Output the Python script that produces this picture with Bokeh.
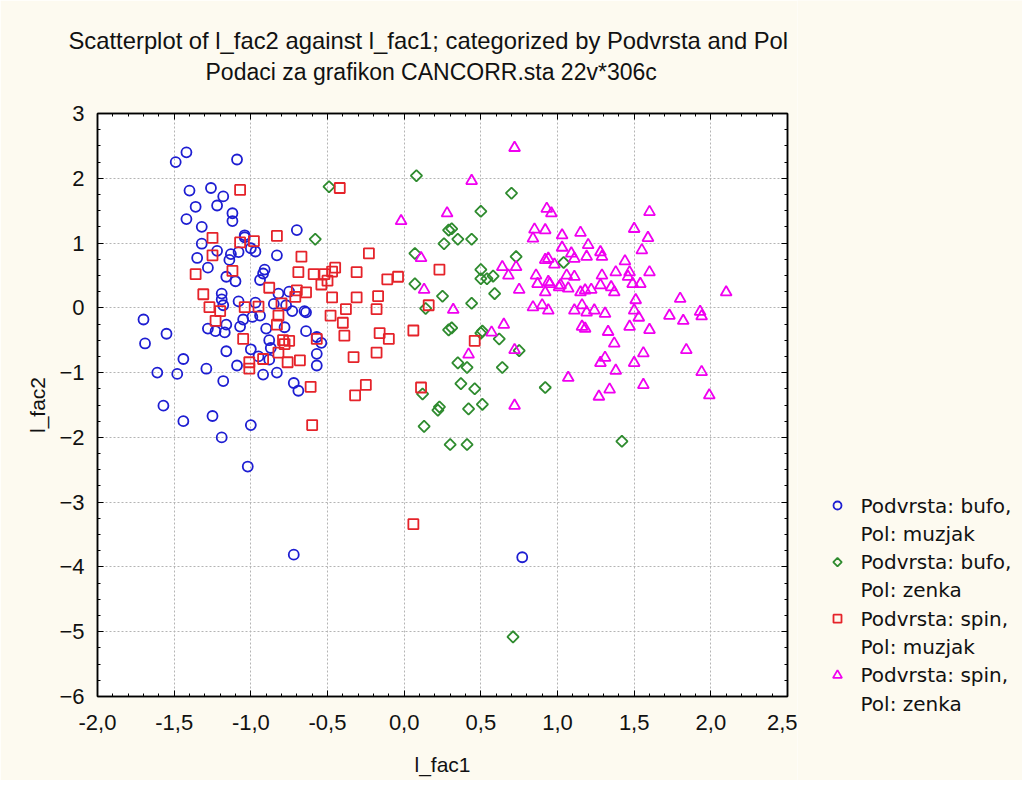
from bokeh.plotting import figure
from bokeh.layouts import row
from bokeh.models import (Range1d, LinearAxis, Title, SingleIntervalTicker,
                          CustomJSTickFormatter)
from bokeh.core.properties import value
from bokeh.embed import file_html
from bokeh.resources import INLINE

# ---- data ----
bufo_muzjak_x = [-1.49, -1.42, -1.09, -1.40, -1.26, -1.18, -1.22, -1.36, -1.12, -1.12,
                 -1.42, -1.32, -0.70, -1.04, -1.32, -1.00, -0.97, -1.22, -1.35, -1.13,
                 -1.14, -0.83, -1.28, -0.91, -0.92, -1.16, -1.10, -0.94, -0.82, -0.75,
                 -1.19, -1.19, -1.08, -0.97, -0.85, -1.18, -0.77, -0.65, -0.73, -1.70,
                 -1.55, -1.69, -1.44, -1.61, -1.48, -1.29, -1.18, -1.57, -1.44, -1.25,
                 -1.19, -1.00, -1.02, -1.28, -1.23, -1.17, -1.16, -1.07, -1.05, -0.99,
                 -1.16, -1.09, -1.00, -0.95, -0.92, -0.83, -0.88, -0.87, -0.88, -0.90,
                 -0.78, -0.64, -0.64, -0.57, -0.57, -0.57, -0.54, -0.72, -0.69, -0.94,
                 -0.72, 0.77, -1.08, -1.04]
bufo_muzjak_y = [2.25, 2.40, 2.29, 1.81, 1.85, 1.72, 1.58, 1.56, 1.46, 1.34,
                 1.37, 1.25, 1.20, 1.09, 0.99, 0.92, 0.87, 0.88, 0.77, 0.83,
                 0.74, 0.81, 0.62, 0.59, 0.53, 0.48, 0.41, 0.43, 0.22, 0.25,
                 0.22, 0.13, 0.10, 0.08, 0.06, 0.04, 0.04, -0.05, -0.05, -0.18,
                 -0.40, -0.55, -0.79, -1.00, -1.02, -0.94, -1.13, -1.51, -1.75, -1.67,
                 -2.00, -1.81, -2.45, -0.32, -0.36, -0.38, -0.26, -0.29, -0.18, -0.14,
                 -0.67, -0.89, -0.64, -0.75, -1.03, -1.00, -0.50, -0.62, -0.80, -0.32,
                 -0.30, -0.07, -0.36, -0.45, -0.71, -0.89, -0.54, -1.16, -1.28, -0.12,
                 -3.81, -3.85, 0.86, 1.12]

bufo_zenka_x = [-0.49, 0.08, -0.58, 0.07, 0.07, 0.26, 0.70, 0.50, 0.29, 0.31,
                0.35, 0.44, 0.73, 1.04, 0.50, 0.50, 0.54, 0.58, 0.59, 0.25,
                0.44, 0.14, 0.29, 0.31, 0.50, 0.51, 0.62, 0.75, 0.35, 0.41,
                0.64, 0.92, 0.37, 0.46, 0.12, 0.23, 0.22, 0.42, 0.51, 0.13,
                0.30, 0.41, 1.42, 0.71]
bufo_zenka_y = [1.87, 2.04, 1.06, 0.84, 0.37, 0.99, 1.77, 1.49, 1.20, 1.22,
                1.06, 1.06, 0.79, 0.70, 0.59, 0.45, 0.45, 0.49, 0.22, 0.18,
                0.07, -0.01, -0.34, -0.31, -0.39, -0.36, -0.48, -0.66, -0.85, -0.92,
                -0.92, -1.23, -1.17, -1.25, -1.33, -1.53, -1.58, -1.56, -1.49, -1.83,
                -2.11, -2.11, -2.06, -5.08]

spin_muzjak_x = [-1.07, -0.42, -1.25, -1.07, -0.98, -0.83, -1.25, -0.67, -0.23, -1.36,
                 -1.12, -0.69, -0.59, -0.52, -0.47, -0.45, -0.31, -0.11, -0.04, -0.54,
                 -0.50, -0.88, -1.31, -0.70, -0.64, -0.71, -0.47, -0.31, -0.17, -0.80,
                 0.23, -1.27, -1.20, -1.04, -0.95, -0.38, -0.18, 0.16, -1.23, -0.82,
                 -0.83, -0.48, -0.40, -0.39, -1.05, -0.79, -0.75, -0.78, -0.82, -0.76,
                 -0.68, -0.92, -1.01, -1.01, -0.57, -0.16, -0.10, 0.06, -0.33, -0.18,
                 -0.61, -0.32, -0.25, -0.60, 0.11, 0.46, 0.06]
spin_muzjak_y = [1.82, 1.85, 1.08, 1.01, 1.03, 1.11, 0.81, 0.79, 0.84, 0.52,
                 0.57, 0.55, 0.52, 0.52, 0.56, 0.62, 0.55, 0.44, 0.48, 0.36,
                 0.42, 0.31, 0.21, 0.27, 0.24, 0.17, 0.16, 0.16, 0.18, 0.07,
                 0.59, 0.01, -0.05, 0.01, 0.02, -0.02, -0.02, 0.04, -0.20, -0.12,
                 -0.26, -0.12, -0.23, -0.43, -0.48, -0.50, -0.51, -0.56, -0.69, -0.84,
                 -0.81, -0.79, -0.84, -0.94, -0.48, -0.39, -0.48, -0.35, -0.76, -0.69,
                 -1.22, -1.35, -1.19, -1.81, -1.23, -0.51, -3.34]

spin_zenka_x = [0.72, 0.44, -0.02, 0.28, 0.11, 0.13, 0.93, 0.96, 1.60, 0.85,
                0.92, 0.84, 1.03, 1.15, 1.50, 1.59, 1.03, 1.20, 1.09, 1.11,
                1.19, 1.28, 1.29, 1.55, 0.92, 0.94, 0.98, 1.44, 1.47, 1.46,
                1.49, 0.64, 0.68, 0.73, 0.86, 0.87, 1.06, 1.11, 1.29, 1.38,
                1.60, 0.75, 0.92, 0.95, 1.02, 1.07, 1.15, 1.18, 1.22, 1.35,
                1.37, 1.54, 1.51, 1.80, 2.10, 0.32, 0.84, 0.90, 1.16, 0.94,
                1.11, 1.19, 1.24, 1.31, 1.50, 1.53, 1.47, 1.60, 1.73, 1.82,
                1.93, 1.94, 0.65, 0.57, 1.16, 1.18, 1.33, 1.37, 0.72, 0.42,
                1.31, 1.28, 1.38, 1.50, 1.56, 1.84, 1.94, 1.99, 1.07, 1.34,
                1.27, 1.56, 0.72, 0.94, 1.01, 1.28]
spin_zenka_y = [2.47, 1.96, 1.34, 1.46, 0.77, 0.28, 1.53, 1.46, 1.48, 1.21,
                1.20, 1.07, 1.12, 1.16, 1.22, 1.08, 0.93, 0.97, 0.84, 0.76,
                0.79, 0.86, 0.79, 0.89, 0.74, 0.76, 0.67, 0.72, 0.55, 0.48,
                0.37, 0.63, 0.50, 0.63, 0.50, 0.37, 0.50, 0.48, 0.50, 0.55,
                0.55, 0.28, 0.24, 0.37, 0.35, 0.30, 0.24, 0.27, 0.28, 0.32,
                0.24, 0.37, 0.12, 0.14, 0.24, -0.03, 0.01, 0.04, 0.04, -0.04,
                -0.04, -0.07, -0.04, -0.09, -0.04, -0.15, -0.29, -0.34, -0.12, -0.20,
                -0.06, -0.13, -0.26, -0.38, -0.29, -0.32, -0.37, -0.55, -0.65, -0.72,
                -0.77, -0.85, -0.97, -0.85, -0.70, -0.65, -0.99, -1.35, -1.08, -1.26,
                -1.37, -1.19, -1.51, 0.40, 0.32, 0.35]

legend_line1 = ["Podvrsta: bufo,", "Podvrsta: bufo,", "Podvrsta: spin,", "Podvrsta: spin,"]
legend_line2 = ["Pol: muzjak", "Pol: zenka", "Pol: muzjak", "Pol: zenka"]

title_line1 = "Scatterplot of  l_fac2 against  l_fac1; categorized by Podvrsta and Pol"
title_line2 = "Podaci za grafikon CANCORR.sta 22v*306c"

# ---- styling ----
CREAM = "#fdfaf0"
BLUE = "#1e1ed2"
GREEN = "#2e8b2e"
RED = "#e5232a"
MAGENTA = "#f000f0"
FONT = "Liberation Sans"
INK = "#111111"

MAIN_W = 797
TOTAL_W = 1022
TOTAL_H = 780

p = figure(frame_width=690, frame_height=583, output_backend="svg", toolbar_location=None,
           title=None,
           x_range=Range1d(-2.0, 2.5), y_range=Range1d(-6, 3),
           x_axis_label="l_fac1", y_axis_label="l_fac2",
           min_border_left=97, min_border_right=MAIN_W - 97 - 690,
           min_border_top=113, min_border_bottom=TOTAL_H - 113 - 583)
p.border_fill_color = CREAM
p.background_fill_color = "white"
p.outline_line_color = "black"
p.outline_line_width = 1.5

xt = SingleIntervalTicker(interval=0.5, num_minor_ticks=5)
yt = SingleIntervalTicker(interval=1, num_minor_ticks=4)
xfmt = CustomJSTickFormatter(code="return tick.toFixed(1).replace('.', ',');")
empty = CustomJSTickFormatter(code="return '';")

def style_axis(ax):
    ax.axis_line_color = "black"
    ax.axis_line_width = 1.5
    ax.major_tick_in = 6
    ax.major_tick_out = 0
    ax.minor_tick_in = 3
    ax.minor_tick_out = 0
    ax.major_tick_line_color = "black"
    ax.minor_tick_line_color = "black"
    ax.major_label_text_font = FONT
    ax.major_label_text_font_size = "22px"
    ax.major_label_text_color = INK
    ax.axis_label_text_font = FONT
    ax.axis_label_text_font_size = "21px"
    ax.axis_label_text_font_style = "normal"
    ax.axis_label_text_color = INK

xa = p.xaxis[0]
xa.ticker = xt
xa.formatter = xfmt
style_axis(xa)
xa.major_label_standoff = 18
xa.axis_label_standoff = 20

ya = p.yaxis[0]
ya.ticker = yt
style_axis(ya)
ya.major_label_standoff = 13
ya.axis_label_standoff = 7

top = LinearAxis(ticker=xt, formatter=empty, major_label_standoff=0)
style_axis(top)
p.add_layout(top, "above")

right = LinearAxis(ticker=yt, formatter=empty, major_label_standoff=0)
style_axis(right)
p.add_layout(right, "right")

for g in (p.xgrid[0], p.ygrid[0]):
    g.grid_line_color = "#b4b4b4"
    g.grid_line_dash = "2 2"
    g.grid_line_width = 1
p.xgrid[0].ticker = xt
p.ygrid[0].ticker = yt

# ---- points ----
p.scatter(bufo_muzjak_x, bufo_muzjak_y, marker="circle", size=10,
          fill_color=None, line_color=BLUE, line_width=1.8)
p.scatter(bufo_zenka_x, bufo_zenka_y, marker="square", size=8, angle=0.785398,
          fill_color=None, line_color=GREEN, line_width=1.8)
p.scatter(spin_muzjak_x, spin_muzjak_y, marker="square", size=10,
          fill_color=None, line_color=RED, line_width=1.8)
p.scatter(spin_zenka_x, spin_zenka_y, marker="triangle", size=11,
          fill_color=None, line_color=MAGENTA, line_width=1.8)

# ---- titles (a blank spacer title keeps them clear of the frame) ----
spacer = Title(text=" ", text_font_size="1px", standoff=25)
t2 = Title(text=title_line2, align="left", offset=108, text_font=FONT,
           text_font_size="23px", text_font_style="normal", text_color=INK,
           standoff=2)
t1 = Title(text=title_line1, align="left", offset=-29, text_font=FONT,
           text_font_size="23.8px", text_font_style="normal", text_color=INK,
           standoff=4)
p.add_layout(spacer, "above")
p.add_layout(t2, "above")
p.add_layout(t1, "above")

# ---- legend panel (separate figure, pixel coordinates) ----
lg = figure(width=TOTAL_W - MAIN_W, height=TOTAL_H, output_backend="svg",
            toolbar_location=None, title=None,
            x_range=Range1d(MAIN_W, TOTAL_W),
            x_axis_location=None, y_axis_location=None, min_border=0)
if "frame_align" in lg.properties():
    lg.frame_align = False
    lg.y_range = Range1d(TOTAL_H, 0)
else:
    lg.y_range = Range1d(113 + 583, 113)
lg.border_fill_color = CREAM
lg.background_fill_color = CREAM
lg.outline_line_color = None
lg.grid.visible = False

row_y = [505 + 28.3 * i for i in range(8)]
glyph_x = 837
text_x = 860
markers = ["circle", "square", "square", "triangle"]
angles = [0, 0.785398, 0, 0]
sizes = [8, 6, 8, 9]
colors = [BLUE, GREEN, RED, MAGENTA]
for i in range(4):
    lg.scatter([glyph_x], [row_y[2 * i]], marker=markers[i], size=sizes[i],
               angle=angles[i], fill_color=None, line_color=colors[i], line_width=1.8)

labels = []
for a, b in zip(legend_line1, legend_line2):
    labels += [a, b]
lg.text(x=[text_x] * 8, y=row_y, text=labels, text_baseline="middle",
        text_align="left", text_font=value("DejaVu Sans"),
        text_font_size=value("20px"), text_color=INK)

layout = row(p, lg)
layout.spacing = 0
open("out.html", "w").write(file_html(layout, INLINE))
